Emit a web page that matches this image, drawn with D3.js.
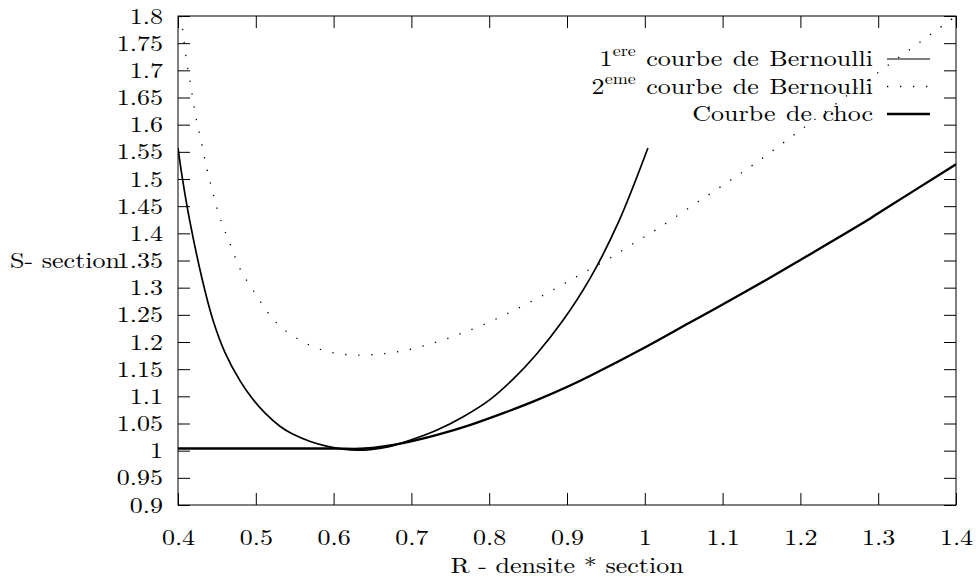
<!DOCTYPE html>
<html>
<head>
<meta charset="utf-8">
<script src="https://cdn.jsdelivr.net/npm/d3@7"></script>
<style>
  body { margin: 0; background: #fff; }
</style>
</head>
<body>
<svg id="chart"></svg>
<script>
const xTicks = [0.4, 0.5, 0.6, 0.7, 0.8, 0.9, 1, 1.1, 1.2, 1.3, 1.4];
const yTicks = [0.9, 0.95, 1, 1.05, 1.1, 1.15, 1.2, 1.25, 1.3, 1.35, 1.4, 1.45, 1.5, 1.55, 1.6, 1.65, 1.7, 1.75, 1.8];

// 1ere courbe de Bernoulli (R, S)
const bern1 = [
  [0.4, 1.557], [0.406, 1.498], [0.415, 1.424], [0.431, 1.316], [0.445, 1.24],
  [0.46, 1.182], [0.48, 1.128], [0.495, 1.097], [0.512, 1.069], [0.531, 1.045],
  [0.548, 1.03], [0.57, 1.017], [0.592, 1.008], [0.612, 1.003], [0.63, 1.001],
  [0.647, 1.002], [0.67, 1.007], [0.698, 1.019], [0.733, 1.038], [0.766, 1.062],
  [0.801, 1.094], [0.831, 1.132], [0.861, 1.178], [0.894, 1.238], [0.93, 1.318],
  [0.966, 1.42], [1.004, 1.557]
];

// 2eme courbe de Bernoulli
const bern2 = [
  [0.404, 1.8], [0.41, 1.728], [0.417, 1.666], [0.423, 1.614], [0.43, 1.568],
  [0.437, 1.52], [0.445, 1.474], [0.454, 1.428], [0.466, 1.384], [0.481, 1.331],
  [0.5, 1.288], [0.515, 1.255], [0.532, 1.228], [0.561, 1.2], [0.593, 1.182],
  [0.626, 1.176], [0.661, 1.178], [0.694, 1.185], [0.728, 1.198], [0.759, 1.213],
  [0.791, 1.231], [0.83, 1.257], [0.868, 1.285], [0.897, 1.308], [0.927, 1.332],
  [0.957, 1.356], [0.986, 1.382], [1.016, 1.408], [1.058, 1.448], [1.101, 1.489],
  [1.142, 1.529], [1.2, 1.59], [1.3, 1.696], [1.4, 1.8]
];

// Courbe de choc
const choc = [
  [0.4, 1.004], [0.5, 1.004], [0.6, 1.004], [0.64, 1.004], [0.689, 1.014],
  [0.733, 1.029], [0.775, 1.047], [0.818, 1.069], [0.861, 1.093], [0.904, 1.12],
  [0.93, 1.138], [1.0, 1.19], [1.058, 1.236], [1.1, 1.269], [1.157, 1.315],
  [1.2, 1.351], [1.286, 1.424], [1.3, 1.437], [1.4, 1.527]
];

const w = 976;
const h = 580;
const plotLeft = 178;
const plotRight = 956;
const plotTop = 16;
const plotBottom = 505;
const tick = 12;
const fontSize = 21.5;
const fontFamily = "'Latin Modern Roman', 'Liberation Serif', monospace";
const stretch = 1.21;

const svg = d3.select("#chart").attr("width", w).attr("height", h);

const x = d3.scaleLinear().domain([0.4, 1.4]).range([plotLeft, plotRight]);
const y = d3.scaleLinear().domain([0.9, 1.8]).range([plotBottom, plotTop]);

const fmt = (d) => String(d);

// axes, ticks pointing inward on all four sides
const xAxis = svg.append("g")
  .attr("transform", "translate(0," + plotBottom + ")")
  .call(d3.axisBottom(x).tickValues(xTicks).tickSize(-tick).tickFormat(fmt));
svg.append("g")
  .attr("transform", "translate(0," + plotTop + ")")
  .call(d3.axisTop(x).tickValues(xTicks).tickSize(-tick).tickFormat(""));
const yAxis = svg.append("g")
  .attr("transform", "translate(" + plotLeft + ",0)")
  .call(d3.axisLeft(y).tickValues(yTicks).tickSize(-tick).tickFormat(fmt));
svg.append("g")
  .attr("transform", "translate(" + plotRight + ",0)")
  .call(d3.axisRight(y).tickValues(yTicks).tickSize(-tick).tickFormat(""));

svg.selectAll(".domain").remove();
svg.selectAll(".tick line").attr("stroke", "#000").attr("stroke-width", 1);

xAxis.selectAll("text")
  .attr("y", null).attr("dy", null)
  .style("font-family", fontFamily)
  .style("font-size", fontSize + "px")
  .attr("fill", "#000")
  .attr("transform", "translate(0,40) scale(" + stretch + ",1)");

yAxis.selectAll("text")
  .attr("x", null).attr("dy", null)
  .style("font-family", fontFamily)
  .style("font-size", fontSize + "px")
  .attr("fill", "#000")
  .attr("transform", "translate(-15,7) scale(" + stretch + ",1)");

// frame
svg.append("rect")
  .attr("x", plotLeft).attr("y", plotTop)
  .attr("width", plotRight - plotLeft).attr("height", plotBottom - plotTop)
  .attr("fill", "none").attr("stroke", "#000").attr("stroke-width", 1);

// axis titles
svg.append("text")
  .attr("transform", "translate(" + (plotLeft + plotRight) / 2 + ",573) scale(" + stretch + ",1)")
  .attr("text-anchor", "middle")
  .style("font-family", fontFamily)
  .style("font-size", fontSize + "px")
  .text("R - densite * section");

svg.append("text")
  .attr("transform", "translate(10," + (y(1.35) + 7) + ") scale(" + stretch + ",1)")
  .attr("text-anchor", "start")
  .style("font-family", fontFamily)
  .style("font-size", fontSize + "px")
  .text("S- section");

// curves
svg.append("clipPath").attr("id", "plot-clip")
  .append("rect")
  .attr("x", plotLeft).attr("y", plotTop)
  .attr("width", plotRight - plotLeft).attr("height", plotBottom - plotTop);

const line = d3.line()
  .x((d) => x(d[0]))
  .y((d) => y(d[1]))
  .curve(d3.curveCatmullRom.alpha(0.5));

const plot = svg.append("g").attr("clip-path", "url(#plot-clip)");

plot.append("path")
  .datum(bern1)
  .attr("d", line)
  .attr("fill", "none")
  .attr("stroke", "#000")
  .attr("stroke-width", 1.7);

plot.append("path")
  .datum(bern2)
  .attr("d", line)
  .attr("fill", "none")
  .attr("stroke", "#000")
  .attr("stroke-width", 1.3)
  .attr("stroke-dasharray", "1.3 11.7");

plot.append("path")
  .datum(choc)
  .attr("d", line)
  .attr("fill", "none")
  .attr("stroke", "#000")
  .attr("stroke-width", 2.3);

// legend
const legendItems = [
  { num: "1", sup: "ere", rest: " courbe de Bernoulli", width: 1, dash: null },
  { num: "2", sup: "eme", rest: " courbe de Bernoulli", width: 1.3, dash: "1.3 11.7" },
  { num: "", sup: "", rest: "Courbe de choc", width: 2.3, dash: null }
];

const legend = svg.append("g").attr("id", "legend");

legendItems.forEach((item, i) => {
  const base = 66 + i * 27.5;
  const t = legend.append("text")
    .attr("transform", "translate(873," + base + ") scale(" + stretch + ",1)")
    .attr("text-anchor", "end")
    .style("font-family", fontFamily)
    .style("font-size", fontSize + "px")
    .style("word-spacing", "1.5px");
  if (item.num) {
    t.append("tspan").text(item.num);
    t.append("tspan").attr("dy", -10).style("font-size", "15px").text(item.sup);
    t.append("tspan").attr("dy", 10).text(item.rest);
  } else {
    t.text(item.rest);
  }
  legend.append("line")
    .attr("x1", 887).attr("x2", 930)
    .attr("y1", base - 7).attr("y2", base - 7)
    .attr("stroke", "#000")
    .attr("stroke-width", item.width)
    .attr("stroke-dasharray", item.dash);
});
</script>
</body>
</html>
